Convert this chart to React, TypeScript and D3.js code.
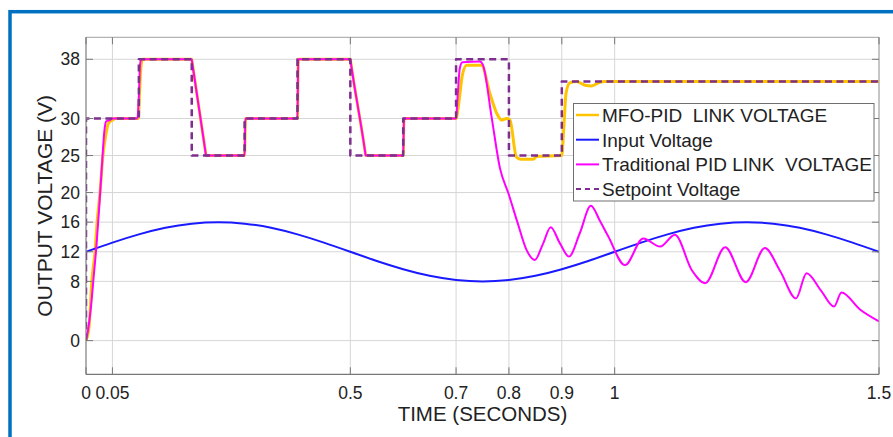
import React from "react";
import * as d3 from "d3";

const W = 893;
const H = 437;
const plot = { left: 86, right: 879, top: 37.3, bottom: 374.3 };

const timeTicks = [0, 0.05, 0.5, 0.7, 0.8, 0.9, 1, 1.5];
const voltTicks = [0, 8, 12, 16, 20, 25, 30, 38];

// Input voltage (blue), read every 0.05 s
const inputTime = [0, 0.05, 0.1, 0.15, 0.2, 0.25, 0.3, 0.35, 0.4, 0.45, 0.5, 0.55, 0.6, 0.65, 0.7, 0.75, 0.8, 0.85, 0.9, 0.95, 1, 1.05, 1.1, 1.15, 1.2, 1.25, 1.3, 1.35, 1.4, 1.45, 1.5];
const inputVolt = [12, 13.24, 14.35, 15.24, 15.8, 16, 15.8, 15.24, 14.35, 13.24, 12, 10.76, 9.65, 8.76, 8.2, 8, 8.2, 8.76, 9.65, 10.76, 12, 13.24, 14.35, 15.24, 15.8, 16, 15.8, 15.24, 14.35, 13.24, 12];

// MFO-PID link voltage (yellow)
const mfoTime = [0, 0.006, 0.011, 0.017, 0.021, 0.0265, 0.032, 0.038, 0.042, 0.05, 0.056, 0.099, 0.101, 0.104, 0.107, 0.2, 0.2008, 0.2262, 0.227, 0.3, 0.3015, 0.4, 0.4015, 0.5, 0.5008, 0.5282, 0.529, 0.6, 0.6015, 0.7, 0.705, 0.712, 0.72, 0.748, 0.764, 0.777, 0.786, 0.796, 0.802, 0.814, 0.822, 0.833, 0.846, 0.853, 0.9, 0.904, 0.908, 0.915, 0.928, 0.944, 0.956, 0.972, 0.98, 1.5];
const mfoVolt = [0, 2, 8, 12, 16, 20, 25, 28, 29.3, 29.8, 30, 30, 33, 37, 38, 38, 37.6, 25.4, 25, 25, 30, 30, 38, 38, 37.6, 25.4, 25, 25, 30, 30, 32, 35.9, 37.2, 37.2, 33.4, 30.7, 29.8, 30, 29.8, 24.8, 24.5, 24.5, 24.5, 24.9, 25, 29, 33.4, 34.8, 35, 34.5, 34.4, 34.9, 35, 35];

// Traditional PID link voltage (magenta)
const pidTime = [0, 0.004, 0.01, 0.015, 0.02, 0.025, 0.03, 0.035, 0.038, 0.045, 0.05, 0.097, 0.1, 0.102, 0.104, 0.2, 0.2008, 0.2262, 0.227, 0.3, 0.3015, 0.4, 0.4015, 0.5, 0.5008, 0.5282, 0.529, 0.6, 0.6015, 0.7, 0.703, 0.707, 0.712, 0.745, 0.751, 0.767, 0.783, 0.799, 0.816, 0.833, 0.849, 0.864, 0.879, 0.896, 0.9135, 0.934, 0.955, 0.972, 0.988, 1.0195, 1.054, 1.086, 1.114, 1.146, 1.171, 1.209, 1.248, 1.284, 1.313, 1.343, 1.363, 1.39, 1.415, 1.429, 1.464, 1.5];
const pidVolt = [0, 1.5, 5, 9, 13, 18, 23.5, 28.5, 29.6, 29.8, 30, 30, 33, 37, 38, 38, 37.6, 25.4, 25, 25, 30, 30, 38, 38, 37.6, 25.4, 25, 25, 30, 30, 33, 36.8, 37.6, 37.7, 37.2, 30.3, 23.3, 19.9, 16, 12.3, 10.9, 13, 15.3, 13.2, 11.35, 14.5, 18.2, 16.2, 14.05, 10.2, 13.8, 12.7, 14.3, 9.5, 7.75, 12.6, 7.9, 12.5, 9.4, 5.7, 9.1, 6.8, 4.6, 6.5, 4.2, 2.6];

// Setpoint (dashed purple)
const spTime = [0, 0, 0.1, 0.1, 0.2, 0.2, 0.3, 0.3, 0.4, 0.4, 0.5, 0.5, 0.6, 0.6, 0.7, 0.7, 0.8, 0.8, 0.9, 0.9, 1.5];
const spVolt = [0, 30, 30, 38, 38, 25, 25, 30, 30, 38, 38, 25, 25, 30, 30, 38, 38, 25, 25, 35, 35];

const legendItems = [
  { label: "MFO-PID  LINK VOLTAGE", color: "#FFC400", width: 2.5, dash: "" },
  { label: "Input Voltage", color: "#1a1aff", width: 2, dash: "" },
  { label: "Traditional PID LINK  VOLTAGE", color: "#FF00FF", width: 2, dash: "" },
  { label: "Setpoint Voltage", color: "#7E2F8E", width: 2, dash: "5 4" },
];

const font = "'Liberation Sans', Arial, sans-serif";

export default function App() {
  const x = d3.scaleLinear().domain([0, 1.5]).range([plot.left, plot.right]);
  const y = d3.scaleLinear().domain([-4.55, 40.97]).range([plot.bottom, plot.top]);

  const path = (t: number[], v: number[], curve: d3.CurveFactory) =>
    d3
      .line<[number, number]>()
      .x((d) => x(d[0]))
      .y((d) => y(d[1]))
      .curve(curve)(d3.zip(t, v) as [number, number][]) || "";

  const tickLen = 7;
  const axisColor = "#777";

  return (
    <div style={{ position: "absolute", left: 0, top: 0 }}>
      <svg width={W} height={H} style={{ display: "block", background: "#fff" }} fontFamily={font}>
        {/* blue frame */}
        <rect x={10} y={11.7} width={1000} height={1000} fill="none" stroke="#0070C0" strokeWidth={3.5} />

        <defs>
          <clipPath id="plotClip">
            <rect x={plot.left} y={plot.top} width={plot.right - plot.left} height={plot.bottom - plot.top} />
          </clipPath>
        </defs>

        {/* grid */}
        <g stroke="#d6d6d6" strokeWidth={1}>
          {timeTicks.map((t) => (
            <line key={"gx" + t} x1={x(t)} x2={x(t)} y1={plot.top} y2={plot.bottom} />
          ))}
          {voltTicks.map((v) => (
            <line key={"gy" + v} x1={plot.left} x2={plot.right} y1={y(v)} y2={y(v)} />
          ))}
        </g>

        {/* series */}
        <g clipPath="url(#plotClip)" fill="none" strokeLinejoin="round">
          <path d={path(mfoTime, mfoVolt, d3.curveMonotoneX)} stroke="#FFC400" strokeWidth={3} />
          <path d={path(inputTime, inputVolt, d3.curveNatural)} stroke="#1a1aff" strokeWidth={2} />
          <path d={path(pidTime, pidVolt, d3.curveMonotoneX)} stroke="#FF00FF" strokeWidth={2} />
          <path d={path(spTime, spVolt, d3.curveLinear)} stroke="#7E2F8E" strokeWidth={2.5} strokeDasharray="7 4.5" />
        </g>

        {/* axis box and ticks */}
        <g stroke={axisColor} strokeWidth={1} fill="none">
          <line x1={plot.left} x2={plot.right} y1={plot.top} y2={plot.top} stroke="#a0a0a0" />
          <line x1={plot.right} x2={plot.right} y1={plot.top} y2={plot.bottom} stroke="#a0a0a0" />
          <line x1={plot.left} x2={plot.left} y1={plot.top} y2={plot.bottom} />
          <line x1={plot.left} x2={plot.right} y1={plot.bottom} y2={plot.bottom} stroke="#555" />
          {timeTicks.map((t) => (
            <g key={"tx" + t}>
              <line x1={x(t)} x2={x(t)} y1={plot.bottom} y2={plot.bottom - tickLen} />
              <line x1={x(t)} x2={x(t)} y1={plot.top} y2={plot.top + tickLen} />
            </g>
          ))}
          {voltTicks.map((v) => (
            <g key={"ty" + v}>
              <line x1={plot.left} x2={plot.left + tickLen} y1={y(v)} y2={y(v)} />
              <line x1={plot.right} x2={plot.right - tickLen} y1={y(v)} y2={y(v)} />
            </g>
          ))}
        </g>

        {/* tick labels */}
        <g fill="#222" fontSize={17.5}>
          {timeTicks.map((t) => (
            <text key={"lx" + t} x={x(t)} y={399.3} textAnchor="middle">
              {String(t)}
            </text>
          ))}
          {voltTicks.map((v) => (
            <text key={"ly" + v} x={80} y={y(v) + 6.2} textAnchor="end">
              {String(v)}
            </text>
          ))}
        </g>

        {/* axis labels */}
        <text x={(plot.left + plot.right) / 2} y={421} textAnchor="middle" fontSize={20.5} fill="#222">
          TIME (SECONDS)
        </text>
        <text
          transform={`translate(52.3, ${(plot.top + plot.bottom) / 2}) rotate(-90)`}
          textAnchor="middle"
          fontSize={21}
          fill="#222"
        >
          OUTPUT VOLTAGE (V)
        </text>

        {/* legend */}
        <g>
          <rect x={573.5} y={103.5} width={300.5} height={97.5} fill="#fff" stroke="#707070" strokeWidth={1} />
          {legendItems.map((item, i) => {
            const ly = 115 + i * 24.7;
            return (
              <g key={item.label}>
                <line
                  x1={576}
                  x2={599}
                  y1={ly}
                  y2={ly}
                  stroke={item.color}
                  strokeWidth={item.width}
                  strokeDasharray={item.dash || undefined}
                />
                <text x={602} y={ly + 7} fontSize={19} fill="#222" style={{ whiteSpace: "pre" }}>
                  {item.label}
                </text>
              </g>
            );
          })}
        </g>
      </svg>
    </div>
  );
}
